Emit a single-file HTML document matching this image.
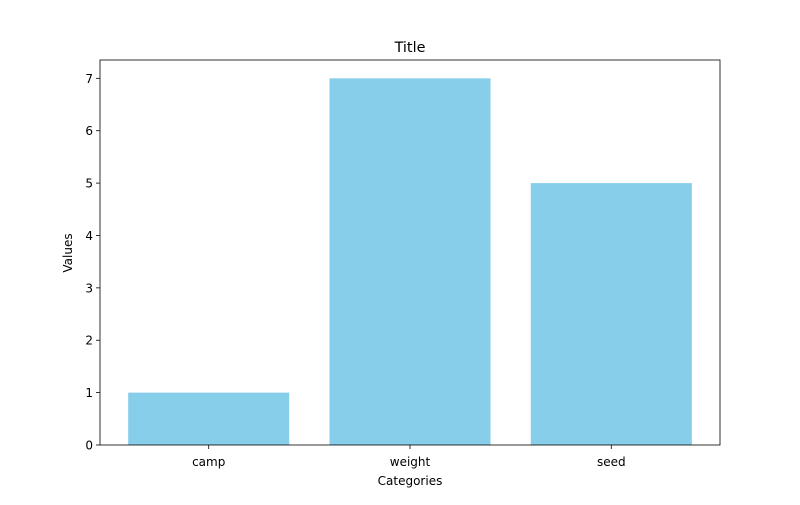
<!DOCTYPE html>
<html><head><meta charset="utf-8"><style>
body{margin:0;background:#fff;}
text{font-family:"DejaVu Sans","Liberation Sans",sans-serif;fill:#000;}
</style></head><body>
<svg id="chart" width="800" height="500" xmlns="http://www.w3.org/2000/svg">
<rect width="800" height="500" fill="#fff"/>
<text x="410" y="52" font-size="14.4" text-anchor="middle">Title</text>
<text x="410" y="485" font-size="12" text-anchor="middle">Categories</text>
<text transform="translate(72,253) rotate(-90)" font-size="12" text-anchor="middle">Values</text>
<g id="bars"></g><g id="axes"></g>
</svg>
<script>
const categories = ["camp", "weight", "seed"];
const values = [1, 7, 5];
const yTicks = [0, 1, 2, 3, 4, 5, 6, 7];
const L = 100, R = 720, T = 60, B = 445;
const ns = "http://www.w3.org/2000/svg";
const ymax = Math.max(...values) * 1.05;
const xmin = -0.54, xmax = categories.length - 1 + 0.54;
function xs(v) { return L + (v - xmin) / (xmax - xmin) * (R - L); }
function ys(v) { return B - v / ymax * (B - T); }
function mk(tag, attrs, parent) { const e = document.createElementNS(ns, tag); for (const k in attrs) e.setAttribute(k, attrs[k]); parent.appendChild(e); return e; }
const bars = document.getElementById('bars'), axes = document.getElementById('axes');
categories.forEach((c, i) => {
  const r = mk('rect', { x: xs(i - 0.4), y: ys(values[i]), width: xs(i + 0.4) - xs(i - 0.4), height: ys(0) - ys(values[i]), fill: '#87ceeb' }, bars);
  
  
  const t = mk('line', { x1: xs(i), x2: xs(i), y1: B, y2: B + 4, stroke: '#000', 'stroke-width': 0.8 }, axes);
  
  
  const lb = mk('text', { x: xs(i), y: B + 21, 'font-size': 12, 'text-anchor': 'middle' }, axes);
  lb.textContent = c;
  
  
});
yTicks.forEach(v => {
  const t = mk('line', { x1: L - 4, x2: L, y1: ys(v), y2: ys(v), stroke: '#000', 'stroke-width': 0.8 }, axes);
  
  
  const lb = mk('text', { x: L - 7, y: ys(v) + 4.5, 'font-size': 12, 'text-anchor': 'end' }, axes);
  lb.textContent = v;
  
  
});
const frame = mk('rect', { x: L, y: T, width: R - L, height: B - T, fill: 'none', stroke: '#000', 'stroke-width': 0.8 }, axes);


</script>
</body></html>
